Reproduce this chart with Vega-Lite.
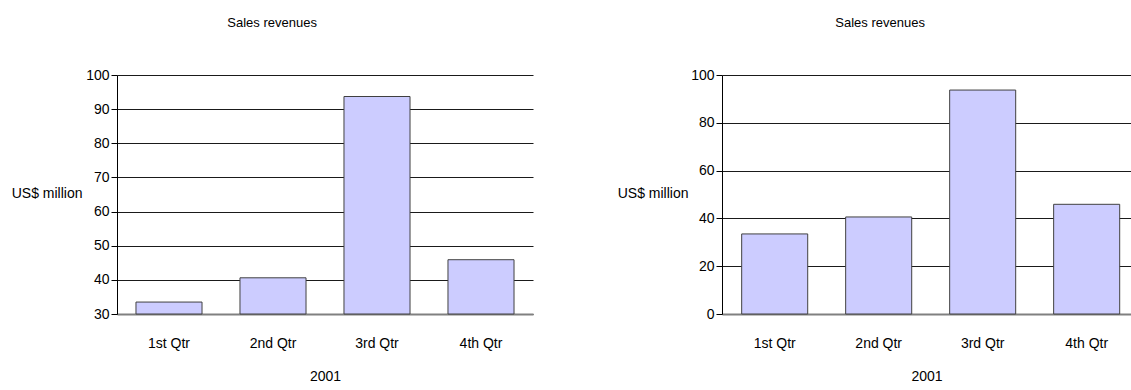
{
  "$schema": "https://vega.github.io/schema/vega-lite/v6.json",
  "background": "white",
  "padding": {"left": 11, "top": 17, "right": 0, "bottom": 0},
  "data": {"values": [
    {"quarter": "1st Qtr", "revenue": 33.5},
    {"quarter": "2nd Qtr", "revenue": 40.6},
    {"quarter": "3rd Qtr", "revenue": 93.7},
    {"quarter": "4th Qtr", "revenue": 45.9}
  ]},
  "spacing": 189,
  "bounds": "flush",
  "hconcat": [
    {
      "width": 416,
      "height": 239,
      "title": {"text": "Sales revenues", "frame": "bounds", "anchor": "middle", "offset": 38},
      "mark": {"type": "bar", "fill": "#CCCCFF", "stroke": "#404040", "strokeWidth": 1},
      "encoding": {
        "x": {
          "field": "quarter", "type": "nominal", "sort": null,
          "scale": {"paddingInner": 0.365, "paddingOuter": 0.1825},
          "axis": {"title": "2001", "labelAngle": 0, "ticks": false, "tickSize": 0, "labelBaseline": "middle", "labelPadding": 29.5, "titleY": 62.5, "titleBaseline": "middle", "grid": false, "domainColor": "#808080", "domainWidth": 2}
        },
        "y": {
          "field": "revenue", "type": "quantitative",
          "scale": {"domain": [30, 100], "zero": false, "nice": false},
          "axis": {"values": [30, 40, 50, 60, 70, 80, 90, 100], "title": "US$ million", "titleAngle": 0, "titleAlign": "right", "titleBaseline": "middle", "titleX": -35, "titleY": 118, "grid": true, "domain": true, "domainColor": "#000000", "tickSize": 6, "labelPadding": 2}
        },
        "y2": {"datum": 30}
      }
    },
    {
      "width": 409,
      "height": 239,
      "title": {"text": "Sales revenues", "frame": "bounds", "anchor": "middle", "offset": 38, "dx": 6},
      "mark": {"type": "bar", "fill": "#CCCCFF", "stroke": "#404040", "strokeWidth": 1},
      "encoding": {
        "x": {
          "field": "quarter", "type": "nominal", "sort": null,
          "scale": {"paddingInner": 0.365, "paddingOuter": 0.149, "align": 0.635},
          "axis": {"title": "2001", "labelAngle": 0, "ticks": false, "tickSize": 0, "labelBaseline": "middle", "labelPadding": 29.5, "titleY": 62.5, "titleBaseline": "middle", "grid": false, "domainColor": "#808080", "domainWidth": 2}
        },
        "y": {
          "field": "revenue", "type": "quantitative",
          "scale": {"domain": [0, 100], "nice": false},
          "axis": {"values": [0, 20, 40, 60, 80, 100], "title": "US$ million", "titleAngle": 0, "titleAlign": "right", "titleBaseline": "middle", "titleX": -34, "titleY": 118, "grid": true, "domain": true, "domainColor": "#000000", "tickSize": 6, "labelPadding": 2}
        }
      }
    }
  ],
  "config": {
    "view": {"stroke": null},
    "font": "Liberation Sans",
    "title": {"font": "Liberation Sans", "fontSize": 13, "fontWeight": "normal", "color": "#000000"},
    "axis": {
      "labelFont": "Liberation Sans",
      "labelFontSize": 14,
      "labelColor": "#000000",
      "titleFont": "Liberation Sans",
      "titleFontSize": 14,
      "titleFontWeight": "normal",
      "titleColor": "#000000",
      "gridColor": "#1a1a1a",
      "gridWidth": 1,
      "gridOpacity": 1,
      "tickColor": "#000000",
      "domainColor": "#000000"
    }
  }
}
